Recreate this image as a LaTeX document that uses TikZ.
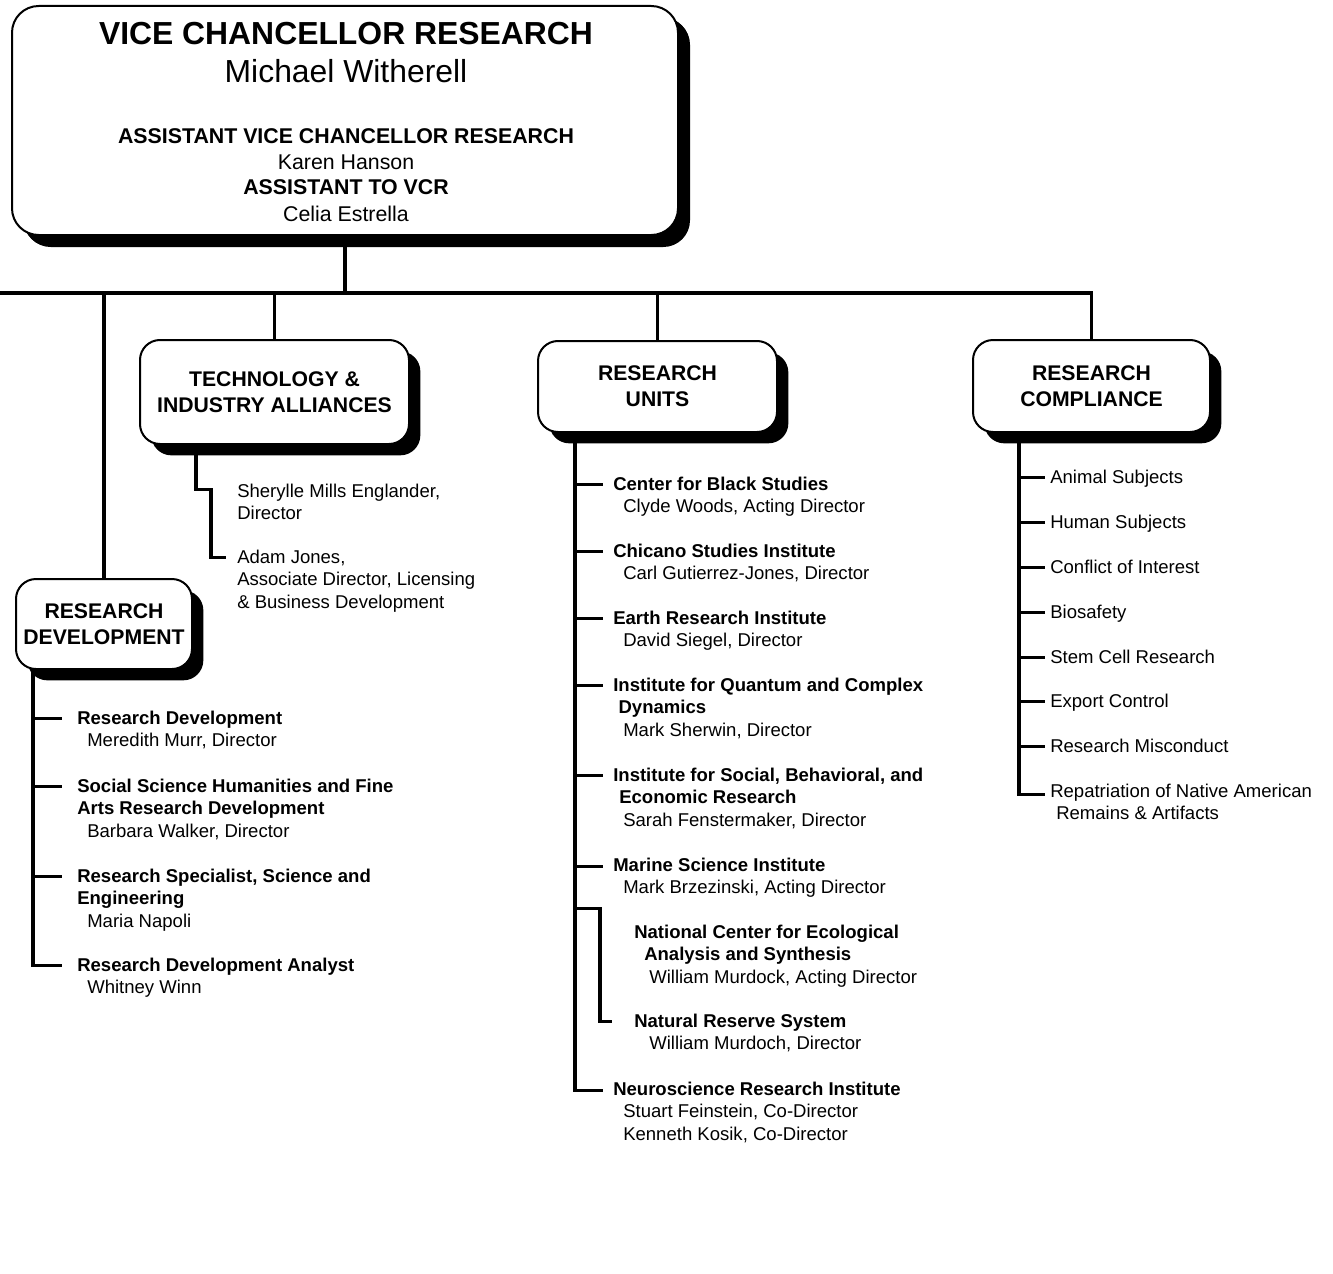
\documentclass[tikz,border=0pt]{standalone}
\usepackage{fontspec}
\setmainfont{Liberation Sans}
\usetikzlibrary{calc,shadows}

\tikzset{
    orgbox/.style={draw, line width=1.5pt, fill=white, rounded corners=15pt,
        align=center, inner sep=0pt, font=\bfseries\fontsize{15.9}{19.5}\selectfont,
        drop shadow={shadow xshift=8.5pt, shadow yshift=-8.5pt, fill=black, opacity=1}},
    link/.style={line width=2.3pt},
    item/.style={anchor=north west, yshift=9.95pt, align=left, inner sep=0pt,
        font=\fontsize{13.9}{16.8}\selectfont},
    topline/.style={anchor=base, inner sep=0pt, font=\fontsize{16}{19}\selectfont},
}

\begin{document}
\begin{tikzpicture}[x=0.75pt,y=-0.75pt]
    \useasboundingbox (0,0) rectangle (1333,1273);

    \node[orgbox, rounded corners=20pt, minimum width=499.5pt, minimum height=171.75pt,
        drop shadow={shadow xshift=9pt, shadow yshift=-9pt, fill=black, opacity=1}] (vcr) at (345,120.5) {};
    \node[topline, font=\bfseries\fontsize{23.9}{28}\selectfont] (vcrtitle) at (346,45) {VICE CHANCELLOR RESEARCH};
    \node[topline, font=\fontsize{23.9}{28}\selectfont] (vcrname) at (346,83) {Michael Witherell};
    \node[topline, font=\bfseries\fontsize{16}{19}\selectfont] (avcrtitle) at (346,144) {ASSISTANT VICE CHANCELLOR RESEARCH};
    \node[topline] (avcrname) at (346,170) {Karen Hanson};
    \node[topline, font=\bfseries\fontsize{16}{19}\selectfont] (atvtitle) at (346,195) {ASSISTANT TO VCR};
    \node[topline] (atvname) at (346,222) {Celia Estrella};

    \node[orgbox, minimum width=201.75pt, minimum height=78pt] (tia) at (274.5,392) {TECHNOLOGY \&\\INDUSTRY ALLIANCES};
    \node[orgbox, minimum width=179.25pt, minimum height=68.25pt] (ru) at (657.5,386.5) {RESEARCH\\UNITS};
    \node[orgbox, minimum width=177.75pt, minimum height=69pt] (rc) at (1091.5,386) {RESEARCH\\COMPLIANCE};
    \node[orgbox, minimum width=132pt, minimum height=67.5pt] (rd) at (104,624) {RESEARCH\\DEVELOPMENT};

    \coordinate (busL) at (0,293);
    \draw[link] (vcr.south) -- (vcr.south |- busL);
    \draw[link] (busL) -| (rc.north);
    \draw[link] (busL -| rd.north) -- (rd.north);
    \draw[link] (busL -| tia.north) -- (tia.north);
    \draw[link] (busL -| ru.north) -- (ru.north);

    \node[item] (tia1) at (237,497) {Sherylle Mills Englander,\\Director};
    \node[item] (tia2) at (237,563) {Adam Jones,\\Associate Director, Licensing\\\& Business Development};
    \coordinate (tiaspine) at (196,0);
    \draw[link] (tiaspine |- tia.south) -- ($(tiaspine |- tia1.north)+(0,5.3)$)
        -| ($(tia2.north west)+(-26,7.3)$) -- ++(15,0);

    \node[item] (rd1) at (77,724) {\textbf{Research Development}\\\hspace*{7.5pt}Meredith Murr, Director};
    \node[item] (rd2) at (77,792) {\textbf{Social Science Humanities and Fine}\\\textbf{Arts Research Development}\\\hspace*{7.5pt}Barbara Walker, Director};
    \node[item] (rd3) at (77,882) {\textbf{Research Specialist, Science and}\\\textbf{Engineering}\\\hspace*{7.5pt}Maria Napoli};
    \node[item] (rd4) at (77,971) {\textbf{Research Development Analyst}\\\hspace*{7.5pt}Whitney Winn};
    \coordinate (rdspine) at (33,0);
    \draw[link] (rdspine |- rd.south) -- ($(rdspine |- rd4.north)+(0,7.3)$) -- ++(29,0);
    \draw[link] ($(rdspine |- rd1.north)+(0,7.3)$) -- ++(29,0);
    \draw[link] ($(rdspine |- rd2.north)+(0,7.3)$) -- ++(29,0);
    \draw[link] ($(rdspine |- rd3.north)+(0,7.3)$) -- ++(29,0);

    \node[item] (ru1) at (613,490) {\textbf{Center for Black Studies}\\\hspace*{7.5pt}Clyde Woods, Acting Director};
    \node[item] (ru2) at (613,557) {\textbf{Chicano Studies Institute}\\\hspace*{7.5pt}Carl Gutierrez-Jones, Director};
    \node[item] (ru3) at (613,624) {\textbf{Earth Research Institute}\\\hspace*{7.5pt}David Siegel, Director};
    \node[item] (ru4) at (613,691) {\textbf{Institute for Quantum and Complex}\\\hspace*{4pt}\textbf{Dynamics}\\\hspace*{7.5pt}Mark Sherwin, Director};
    \node[item] (ru5) at (613,781) {\textbf{Institute for Social, Behavioral, and}\\\hspace*{4.5pt}\textbf{Economic Research}\\\hspace*{7.5pt}Sarah Fenstermaker, Director};
    \node[item] (ru6) at (613,871) {\textbf{Marine Science Institute}\\\hspace*{7.5pt}Mark Brzezinski, Acting Director};
    \node[item] (nc) at (634,938) {\textbf{National Center for Ecological}\\\hspace*{7.5pt}\textbf{Analysis and Synthesis}\\\hspace*{11.25pt}William Murdock, Acting Director};
    \node[item] (nrs) at (634,1027) {\textbf{Natural Reserve System}\\\hspace*{11.25pt}William Murdoch, Director};
    \node[item] (ru9) at (613,1095) {\textbf{Neuroscience Research Institute}\\\hspace*{7.5pt}Stuart Feinstein, Co-Director\\\hspace*{7.5pt}Kenneth Kosik, Co-Director};
    \coordinate (ruspine) at (575,0);
    \draw[link] (ruspine |- ru.south) -- ($(ruspine |- ru9.north)+(0,8.3)$) -- ++(28,0);
    \draw[link] ($(ruspine |- ru1.north)+(0,7.3)$) -- ++(28,0);
    \draw[link] ($(ruspine |- ru2.north)+(0,7.3)$) -- ++(28,0);
    \draw[link] ($(ruspine |- ru3.north)+(0,7.3)$) -- ++(28,0);
    \draw[link] ($(ruspine |- ru4.north)+(0,7.3)$) -- ++(28,0);
    \draw[link] ($(ruspine |- ru5.north)+(0,7.3)$) -- ++(28,0);
    \draw[link] ($(ruspine |- ru6.north)+(0,8.3)$) -- ++(28,0);
    \draw[link] ($(ruspine |- nc.north)+(0,-16.7)$) -| ($(nrs.north west)+(-34,7.3)$) -- ++(12,0);

    \node[item] (rc1) at (1050,483) {Animal Subjects};
    \node[item] (rc2) at (1050,528) {Human Subjects};
    \node[item] (rc3) at (1050,573) {Conflict of Interest};
    \node[item] (rc4) at (1050,618) {Biosafety};
    \node[item] (rc5) at (1050,663) {Stem Cell Research};
    \node[item] (rc6) at (1050,707) {Export Control};
    \node[item] (rc7) at (1050,752) {Research Misconduct};
    \node[item] (rc8) at (1050,797) {Repatriation of Native American\\\hspace*{4.5pt}Remains \& Artifacts};
    \coordinate (rcspine) at (1019,0);
    \draw[link] (rcspine |- rc.south) -- ($(rcspine |- rc8.north)+(0,10.3)$) -- ++(26,0);
    \draw[link] ($(rcspine |- rc1.north)+(0,7.3)$) -- ++(26,0);
    \draw[link] ($(rcspine |- rc2.north)+(0,7.3)$) -- ++(26,0);
    \draw[link] ($(rcspine |- rc3.north)+(0,7.3)$) -- ++(26,0);
    \draw[link] ($(rcspine |- rc4.north)+(0,7.3)$) -- ++(26,0);
    \draw[link] ($(rcspine |- rc5.north)+(0,7.3)$) -- ++(26,0);
    \draw[link] ($(rcspine |- rc6.north)+(0,7.3)$) -- ++(26,0);
    \draw[link] ($(rcspine |- rc7.north)+(0,7.3)$) -- ++(26,0);

\end{tikzpicture}
\end{document}
